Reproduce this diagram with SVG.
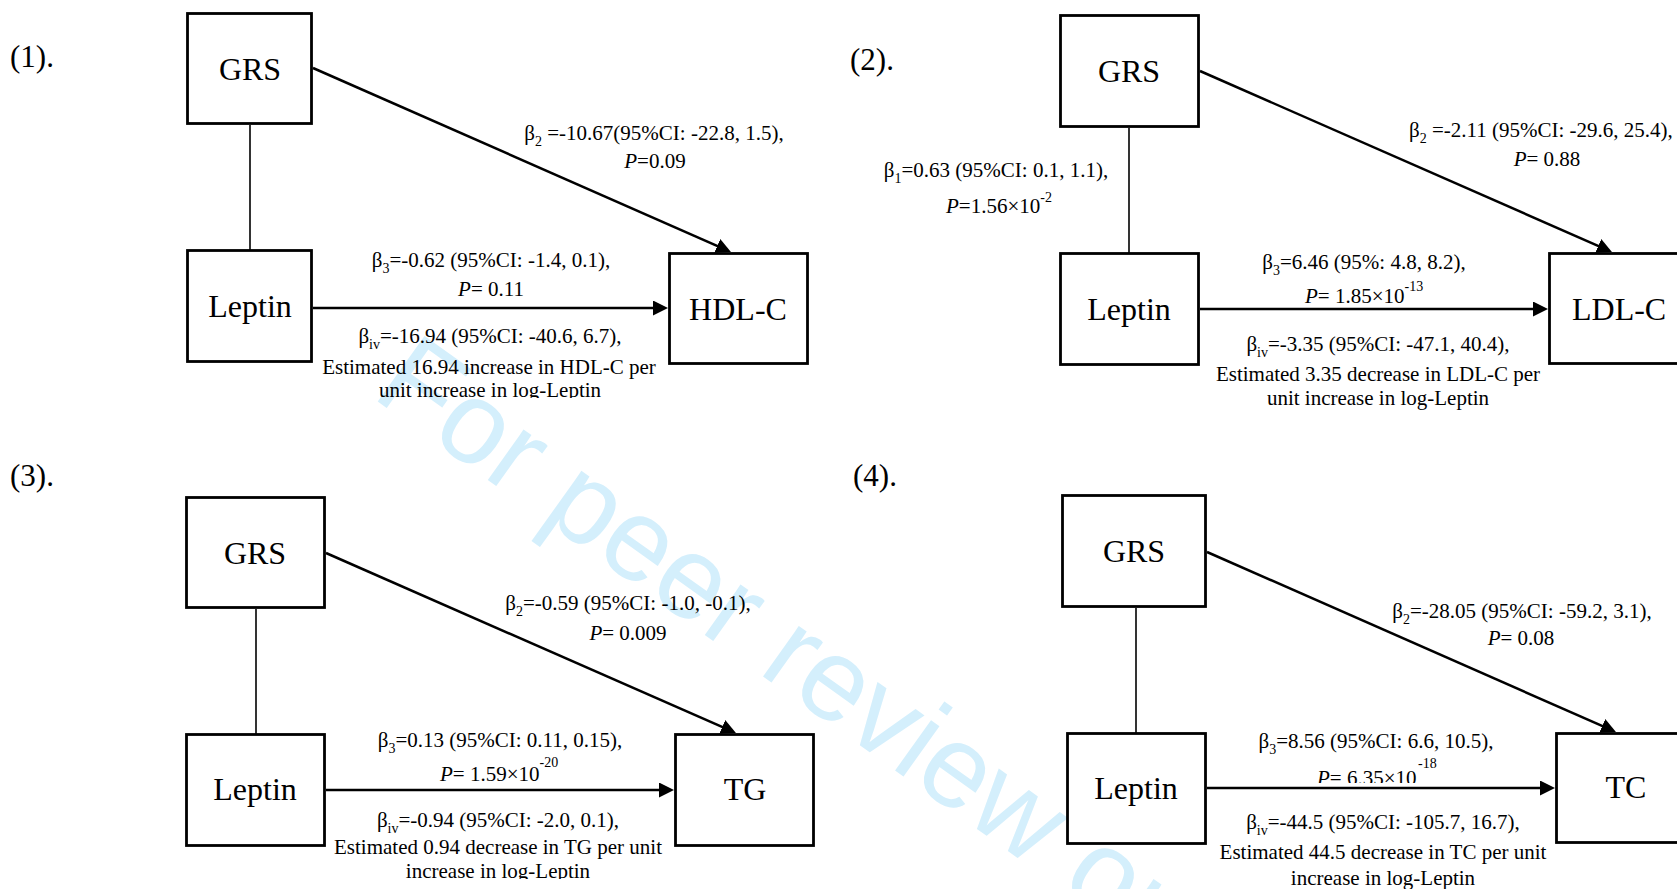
<svg xmlns="http://www.w3.org/2000/svg" width="1677" height="889" viewBox="0 0 1677 889">
<style>
.box{fill:#fff;stroke:#000;stroke-width:2.8}
.nt{font-family:"Liberation Serif","Times New Roman",serif;font-size:32px;fill:#000;text-anchor:middle}
.pn{font-family:"Liberation Serif","Times New Roman",serif;font-size:31px;fill:#000}
.lb{font-family:"Liberation Serif","Times New Roman",serif;font-size:21px;fill:#000;text-anchor:middle}
.ls{text-anchor:start}
.it{font-style:italic}
.sm{font-size:14px}
.arr{stroke:#000;stroke-width:2.5;fill:none;marker-end:url(#ah)}
.vl{stroke:#000;stroke-width:1.6;fill:none}
.wm{font-family:"Liberation Sans",Arial,sans-serif;font-size:117px;fill:#D4EFFC}
</style>
<defs>
<marker id="ah" viewBox="0 0 15 15" refX="11" refY="7.5" markerWidth="15" markerHeight="15" markerUnits="userSpaceOnUse" orient="auto">
<path d="M0,0 L15,7.5 L0,15 z" fill="#000"/>
</marker>
<clipPath id="c1" clipPathUnits="userSpaceOnUse"><rect x="0" y="0" width="1677" height="398"/></clipPath>
<clipPath id="c3" clipPathUnits="userSpaceOnUse"><rect x="0" y="0" width="1677" height="879"/></clipPath>
<clipPath id="c4" clipPathUnits="userSpaceOnUse"><rect x="0" y="0" width="1677" height="783"/></clipPath>
</defs>
<rect x="0" y="0" width="1677" height="889" fill="#fff"/>
<text class="wm" transform="translate(370,396) rotate(35.5)">For peer review only</text>

<g id="panel-labels">
<text class="pn" x="10" y="67">(1).</text>
<text class="pn" x="850" y="70">(2).</text>
<text class="pn" x="10" y="486">(3).</text>
<text class="pn" x="853" y="486">(4).</text>
</g>

<g id="connectors">
<line class="vl" x1="250" y1="125" x2="250" y2="250"/>
<line class="arr" x1="313" y1="68" x2="727.3" y2="250.4"/>
<line class="arr" x1="313" y1="308" x2="664" y2="308"/>
<line class="vl" x1="1129" y1="128" x2="1129" y2="253"/>
<line class="arr" x1="1200" y1="71" x2="1608.3" y2="250.4"/>
<line class="arr" x1="1200" y1="309" x2="1544" y2="309"/>
<line class="vl" x1="256" y1="609" x2="256" y2="734"/>
<line class="arr" x1="326" y1="553" x2="732.3" y2="731.4"/>
<line class="arr" x1="326" y1="790" x2="670" y2="790"/>
<line class="vl" x1="1136" y1="608" x2="1136" y2="733"/>
<line class="arr" x1="1207" y1="552" x2="1612.3" y2="730.4"/>
<line class="arr" x1="1207" y1="788" x2="1551" y2="788"/>
</g>

<g id="p1-grs"><rect class="box" x="187.5" y="13.5" width="124" height="110"/><text class="nt" x="250" y="80">GRS</text></g>
<g id="p1-leptin"><rect class="box" x="187.5" y="250.5" width="124" height="111"/><text class="nt" x="250" y="317">Leptin</text></g>
<g id="p1-hdlc"><rect class="box" x="669.5" y="253.5" width="138" height="110"/><text class="nt" x="738" y="320">HDL-C</text></g>

<g id="p2-grs"><rect class="box" x="1060.5" y="15.5" width="138" height="111"/><text class="nt" x="1129" y="82">GRS</text></g>
<g id="p2-leptin"><rect class="box" x="1060.5" y="253.5" width="138" height="111"/><text class="nt" x="1129" y="320">Leptin</text></g>
<g id="p2-ldlc"><rect class="box" x="1549.5" y="253.5" width="200" height="110"/><text class="nt ls" x="1572" y="320">LDL-C</text></g>

<g id="p3-grs"><rect class="box" x="186.5" y="497.5" width="138" height="110"/><text class="nt" x="255" y="564">GRS</text></g>
<g id="p3-leptin"><rect class="box" x="186.5" y="734.5" width="138" height="111"/><text class="nt" x="255" y="800">Leptin</text></g>
<g id="p3-tg"><rect class="box" x="675.5" y="734.5" width="138" height="111"/><text class="nt" x="745" y="800">TG</text></g>

<g id="p4-grs"><rect class="box" x="1062.5" y="495.5" width="143" height="111"/><text class="nt" x="1134" y="562">GRS</text></g>
<g id="p4-leptin"><rect class="box" x="1067.5" y="733.5" width="138" height="110"/><text class="nt" x="1136" y="799">Leptin</text></g>
<g id="p4-tc"><rect class="box" x="1556.5" y="733.5" width="200" height="109"/><text class="nt" x="1626" y="798">TC</text></g>

<g id="labels">
<text class="lb" x="654" y="140">β<tspan class="sm" dy="6">2</tspan><tspan dy="-6"> =-10.67(95%CI: -22.8, 1.5),</tspan></text>
<text class="lb" x="655" y="168"><tspan class="it">P</tspan>=0.09</text>
<text class="lb" x="491" y="267">β<tspan class="sm" dy="6">3</tspan><tspan dy="-6">=-0.62 (95%CI: -1.4, 0.1),</tspan></text>
<text class="lb" x="491" y="296"><tspan class="it">P</tspan>= 0.11</text>
<text class="lb" x="490" y="343">β<tspan class="sm" dy="6">iv</tspan><tspan dy="-6">=-16.94 (95%CI: -40.6, 6.7),</tspan></text>
<text class="lb" x="489" y="374">Estimated 16.94 increase in HDL-C per</text>
<text class="lb" x="490" y="397" clip-path="url(#c1)">unit increase in log-Leptin</text>

<text class="lb" x="996" y="177">β<tspan class="sm" dy="6">1</tspan><tspan dy="-6">=0.63 (95%CI: 0.1, 1.1),</tspan></text>
<text class="lb ls" x="946" y="213"><tspan class="it">P</tspan>=1.56×10<tspan class="sm" dy="-11">-2</tspan></text>
<text class="lb ls" x="1409" y="137">β<tspan class="sm" dy="6">2</tspan><tspan dy="-6"> =-2.11 (95%CI: -29.6, 25.4),</tspan></text>
<text class="lb" x="1547" y="166"><tspan class="it">P</tspan>= 0.88</text>
<text class="lb" x="1364" y="269">β<tspan class="sm" dy="6">3</tspan><tspan dy="-6">=6.46 (95%: 4.8, 8.2),</tspan></text>
<text class="lb ls" x="1305" y="303"><tspan class="it">P</tspan>= 1.85×10<tspan class="sm" dy="-12">-13</tspan></text>
<text class="lb" x="1378" y="351">β<tspan class="sm" dy="6">iv</tspan><tspan dy="-6">=-3.35 (95%CI: -47.1, 40.4),</tspan></text>
<text class="lb" x="1378" y="381">Estimated 3.35 decrease in LDL-C per</text>
<text class="lb" x="1378" y="405">unit increase in log-Leptin</text>

<text class="lb" x="628" y="610">β<tspan class="sm" dy="6">2</tspan><tspan dy="-6">=-0.59 (95%CI: -1.0, -0.1),</tspan></text>
<text class="lb" x="628" y="640"><tspan class="it">P</tspan>= 0.009</text>
<text class="lb" x="500" y="747">β<tspan class="sm" dy="6">3</tspan><tspan dy="-6">=0.13 (95%CI: 0.11, 0.15),</tspan></text>
<text class="lb ls" x="440" y="781"><tspan class="it">P</tspan>= 1.59×10<tspan class="sm" dy="-14">-20</tspan></text>
<text class="lb" x="498" y="827">β<tspan class="sm" dy="6">iv</tspan><tspan dy="-6">=-0.94 (95%CI: -2.0, 0.1),</tspan></text>
<text class="lb" x="498" y="854">Estimated 0.94 decrease in TG per unit</text>
<text class="lb" x="498" y="878" clip-path="url(#c3)">increase in log-Leptin</text>

<text class="lb" x="1522" y="618">β<tspan class="sm" dy="6">2</tspan><tspan dy="-6">=-28.05 (95%CI: -59.2, 3.1),</tspan></text>
<text class="lb" x="1521" y="645"><tspan class="it">P</tspan>= 0.08</text>
<text class="lb" x="1376" y="748">β<tspan class="sm" dy="6">3</tspan><tspan dy="-6">=8.56 (95%CI: 6.6, 10.5),</tspan></text>
<text class="lb ls" x="1317" y="785" clip-path="url(#c4)"><tspan class="it">P</tspan>= 6.35×10</text>
<text class="lb ls" x="1418" y="768"><tspan class="sm">-18</tspan></text>
<text class="lb" x="1383" y="829">β<tspan class="sm" dy="6">iv</tspan><tspan dy="-6">=-44.5 (95%CI: -105.7, 16.7),</tspan></text>
<text class="lb" x="1383" y="859">Estimated 44.5 decrease in TC per unit</text>
<text class="lb" x="1383" y="885">increase in log-Leptin</text>
</g>
</svg>
